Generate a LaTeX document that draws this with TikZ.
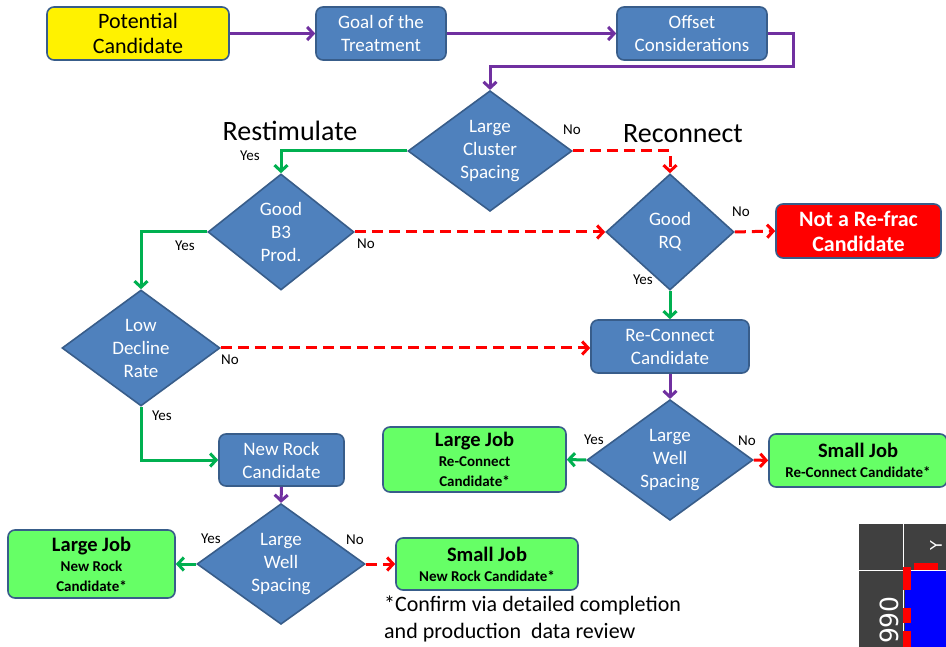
\documentclass[tikz,border=0pt]{standalone}
\usepackage{fontspec}
\setmainfont{Carlito}
\newfontfamily\djv{DejaVu Sans}
\usetikzlibrary{shapes.geometric,arrows.meta}
\definecolor{bfill}{HTML}{4F81BD}
\definecolor{bdraw}{HTML}{385D8A}
\definecolor{gfill}{HTML}{66FF66}
\definecolor{purp}{HTML}{7030A0}
\definecolor{grn}{HTML}{00B050}
\definecolor{rd}{HTML}{FF0000}
\definecolor{dgray}{HTML}{404040}
\definecolor{blu}{HTML}{0000FF}
\tikzset{
  box/.style={draw=bdraw, line width=1.6pt, rounded corners=7pt, align=center, inner sep=0pt},
  bluebox/.style={box, fill=bfill, text=white, font=\fontsize{19}{23}\selectfont},
  greenbox/.style={box, fill=gfill, text=black, font=\bfseries\fontsize{15}{20}\selectfont},
  dia/.style={diamond, draw=bdraw, line width=1.6pt, fill=bfill, text=white, align=center, inner sep=0pt, font=\fontsize{19}{23}\selectfont},
  conn/.style={line width=3pt, -{Straight Barb[length=6pt,width=13pt]}},
  pconn/.style={conn, draw=purp},
  gconn/.style={conn, draw=grn},
  rconn/.style={conn, draw=rd},
  rdash/.style={rconn, dash pattern=on 11pt off 6pt},
  lbl/.style={font=\fontsize{15}{17}\selectfont, inner sep=0pt, text=black},
  big/.style={font=\fontsize{28}{30}\selectfont, inner sep=0pt}
}
\begin{document}
\begin{tikzpicture}[x=1pt,y=-1pt]
\path[use as bounding box, clip] (0,0) rectangle (946,647);
\fill[white] (0,0) rectangle (946,647);

% top row
\node[box, fill=yellow, font=\fontsize{22}{25}\selectfont, minimum width=182pt, minimum height=53pt] (pc) at (138,33.5) {Potential\\Candidate};
\node[bluebox, minimum width=130pt, minimum height=53pt] (goal) at (381,33.5) {Goal of the\\Treatment};
\node[bluebox, minimum width=150pt, minimum height=53pt] (off) at (692,33.5) {Offset\\Considerations};

% diamonds
\node[dia, minimum width=164pt, minimum height=117pt] (d1) at (490,151) {Large\\Cluster\\Spacing};
\node[dia, minimum width=146pt, minimum height=116pt] (d2) at (281,232) {Good\\B3\\Prod.};
\node[dia, minimum width=128pt, minimum height=116pt] (d3) at (670,232) {Good\\RQ};
\node[dia, minimum width=158pt, minimum height=116pt] (d4) at (141,348) {Low\\Decline\\Rate};
\node[dia, minimum width=166pt, minimum height=116pt] (d5) at (670,460) {Large\\Well\\Spacing};
\node[dia, minimum width=168pt, minimum height=116pt] (d6) at (281,564) {Large\\Well\\Spacing};

% boxes
\node[box, fill=rd, text=white, font=\bfseries\fontsize{22}{25}\selectfont, minimum width=165pt, minimum height=54pt] (nrf) at (858.5,231) {Not a Re-frac\\Candidate};
\node[bluebox, minimum width=158pt, minimum height=53pt] (rc) at (670,346.5) {Re-Connect\\Candidate};
\node[bluebox, minimum width=125pt, minimum height=52pt] (nr) at (281.5,460) {New Rock\\Candidate};
\node[greenbox, minimum width=183pt, minimum height=65pt] (lj1) at (474.5,459.5) {{\fontsize{20.5}{22}\selectfont Large Job}\\Re-Connect\\Candidate*};
\node[greenbox, minimum width=178pt, minimum height=53pt] (sj1) at (858,460.5) {{\fontsize{20.5}{22}\selectfont Small Job}\\Re-Connect Candidate*};
\node[greenbox, minimum width=167pt, minimum height=68pt] (lj2) at (91.5,564) {{\fontsize{20.5}{22}\selectfont Large Job}\\New Rock\\Candidate*};
\node[greenbox, minimum width=182pt, minimum height=52pt] (sj2) at (487,564) {{\fontsize{20.5}{22}\selectfont Small Job}\\New Rock Candidate*};

% connectors
\draw[pconn] (pc.east) -- (goal.west);
\draw[pconn] (goal.east) -- (off.west);
\draw[pconn] (off.east) -| (793,67) -| (d1.north);
\draw[gconn] (d1.west) -| (d2.north);
\draw[rdash] (d1.east) -| (d3.north);
\draw[rdash] (d2.east) -- (d3.west);
\draw[rdash] (d3.east) -- (nrf.west);
\draw[gconn] (d3.south) -- (rc.north);
\draw[gconn] (d2.west) -| (d4.north);
\draw[rdash] (d4.east) -- (d4.east -| rc.west);
\draw[pconn] (rc.south) -- (d5.north);
\draw[gconn] (d5.west) -- (lj1.east);
\draw[rconn] (d5.east) -- (sj1.west);
\draw[gconn] (d4.south) |- (nr.west);
\draw[pconn] (nr.south) -- (d6.north);
\draw[gconn] (d6.west) -- (lj2.east);
\draw[rdash] (d6.east) -- (sj2.west);

% labels
\node[big] (rs) at (290,131) {Restimulate};
\node[big] (rcn) at (683,134) {Reconnect};
\node[lbl] (y1) at (250,156) {Yes};
\node[lbl] (n1) at (572,130) {No};
\node[lbl] (y2) at (185,246) {Yes};
\node[lbl] (n2) at (366,244) {No};
\node[lbl] (n3) at (741,212) {No};
\node[lbl] (y3) at (643,280) {Yes};
\node[lbl] (n4) at (230,360) {No};
\node[lbl] (y4) at (162,416) {Yes};
\node[lbl] (y5) at (594,440) {Yes};
\node[lbl] (n5) at (747,441) {No};
\node[lbl] (y6) at (211,539) {Yes};
\node[lbl] (n6) at (355,540) {No};
\node[anchor=north west, align=left, inner sep=0pt, font=\fontsize{22}{27}\selectfont] (fn) at (384,596) {*Confirm via detailed completion\\and production~ data review};

% corner fragment
\fill[dgray] (859,524) rectangle (946,647);
\fill[blu] (905,571) rectangle (946,647);
\draw[white, line width=1pt] (903.5,524) -- (903.5,647);
\draw[white, line width=1pt] (859,570) -- (946,570);
\fill[rd] (903,567) rectangle (911,590);
\fill[rd] (903,608) rectangle (911,623);
\fill[rd] (903,631) rectangle (911,647);
\fill[rd] (914,563) rectangle (938,570);
\node[rotate=90, anchor=east, text=white, inner sep=0pt, font=\djv\fontsize{25}{27}\selectfont] (yr) at (889,596) {990};
\node[rotate=90, text=white, inner sep=0pt, font=\djv\fontsize{16}{18}\selectfont] (hd) at (936,546) {Y};
\end{tikzpicture}
\end{document}
